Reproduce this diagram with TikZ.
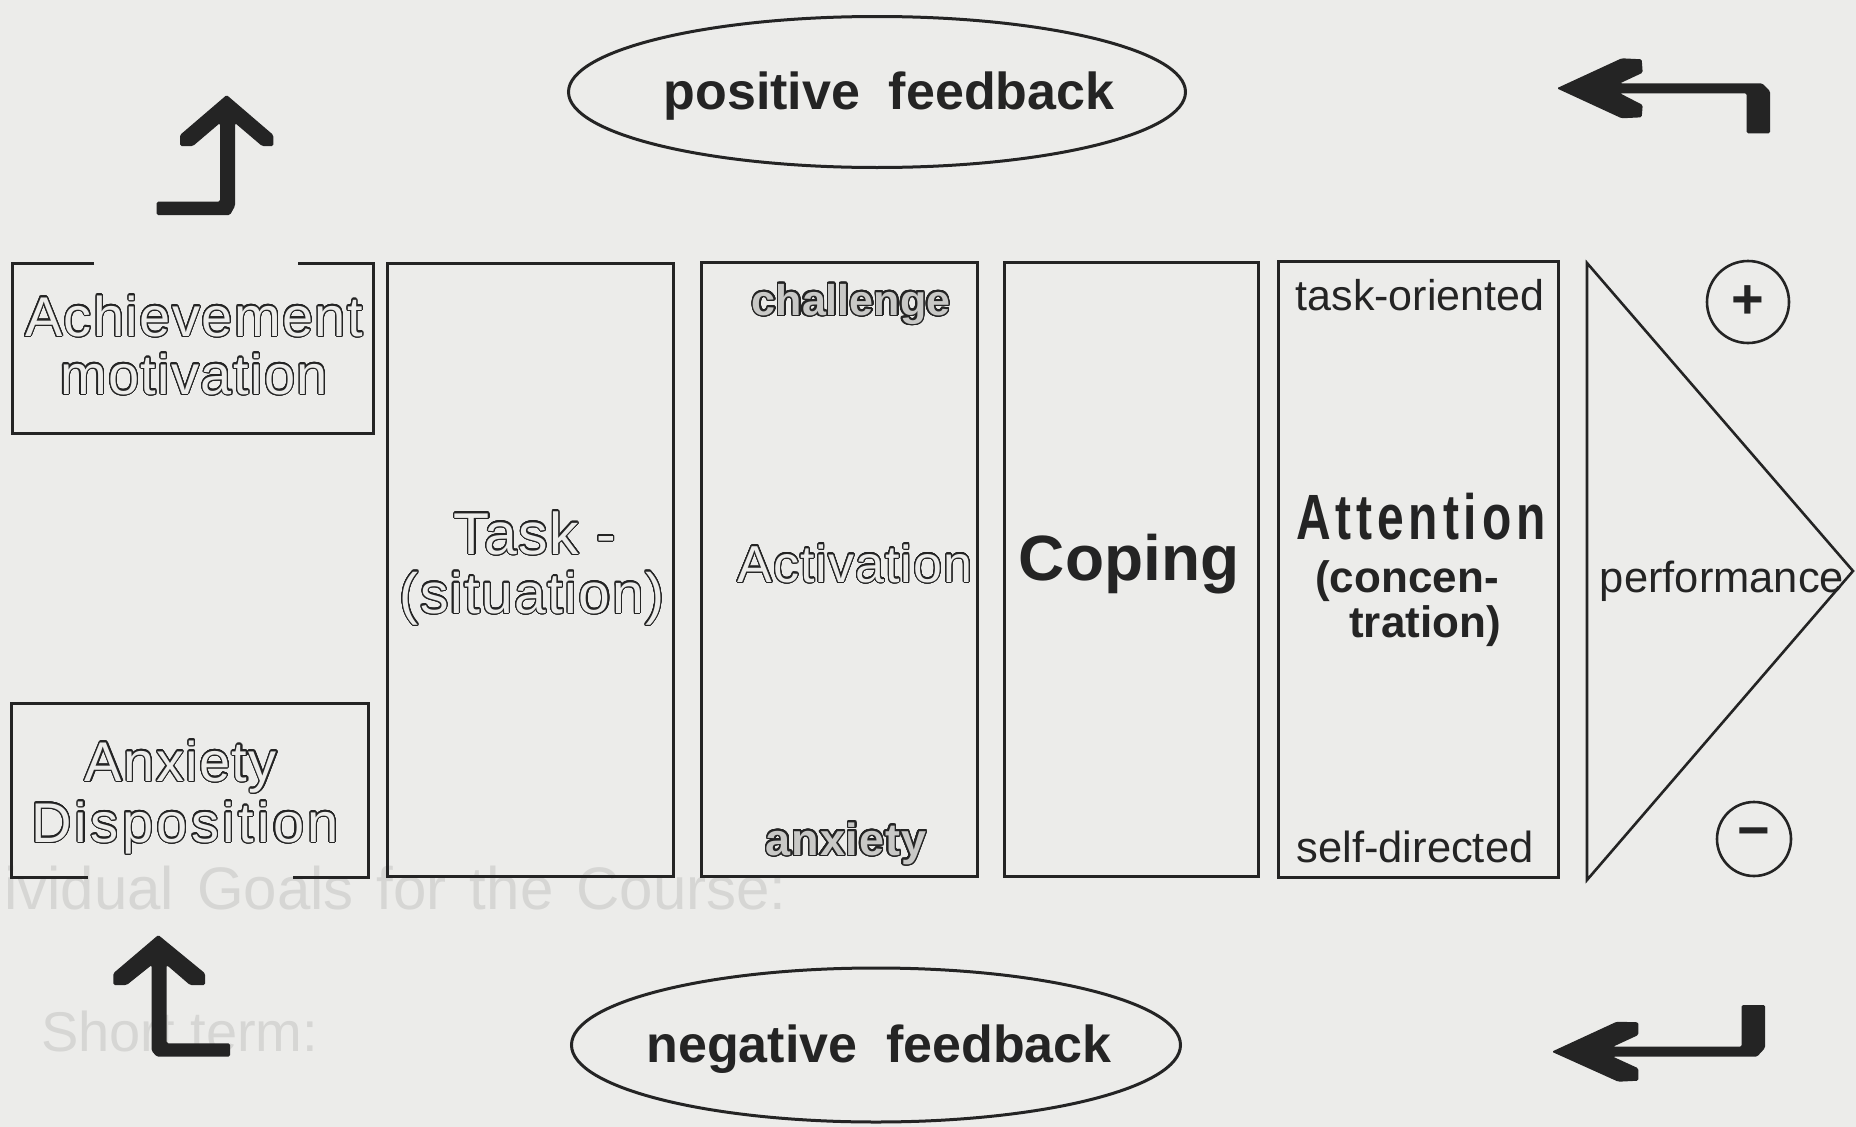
\documentclass[tikz,border=0pt]{standalone}
\usepackage{fontspec}
\setmainfont{Liberation Sans}
\usepackage{graphicx}
\usepackage[copies]{contour}
\usetikzlibrary{shapes.geometric}

\definecolor{paper}{RGB}{236,236,234}
\definecolor{ink}{RGB}{36,36,36}
\definecolor{ghost}{RGB}{214,214,212}

\contourlength{1.1pt}
\contournumber{32}
% hollow (outlined) lettering: ink rim, paper-coloured body
\newcommand\hollow[2][paper]{\contour{ink}{\textcolor{#1}{#2}}}
% heavier outlined lettering with a light core
\newcommand\hollowbold[1]{{\contourlength{1.5pt}\contour{ink}{\textcolor{ink!18!paper}{#1}}}}
\newcommand\pxsize[1]{\fontsize{#1}{#1}\selectfont}
\newcommand\wgap{\hspace{23pt}}

\begin{document}
\begin{tikzpicture}[x=1pt,y=-1pt,
  frame/.style={draw=ink, line width=3pt},
  hidden/.style={draw=none, inner sep=0pt, outer sep=0pt},
  lbl/.style={anchor=base, inner sep=0pt, outer sep=0pt, text=ink},
  sign/.style={circle, draw=ink, line width=2.6pt, inner sep=0pt, text=ink, font=\bfseries\pxsize{56}},
  fb/.style={ellipse, draw=ink, line width=3pt, inner sep=0pt},
  bent/.style={fill=ink, rounded corners=1.5pt}]

\useasboundingbox (0,0) rectangle (1856,1127);
\fill[paper] (0,0) rectangle (1856,1127);

% faint lettering showing through the sheet
\node[anchor=base west, inner sep=0pt, text=ghost, font=\pxsize{60}] (ghostA) at (4,909) {ividual\wgap Goals\wgap for\wgap the\wgap Course:};
\node[anchor=base west, inner sep=0pt, text=ghost, font=\pxsize{56}] (ghostB) at (41,1051) {Short term:};

% feedback ellipses
\node[fb, minimum width=617, minimum height=151] (posfb) at (877,92) {};
\node[lbl, font=\bfseries\pxsize{52}] (posfbl) at (889,109) {positive\ \ feedback};
\node[fb, minimum width=609, minimum height=154] (negfb) at (876,1045) {};
\node[lbl, font=\bfseries\pxsize{52}] (negfbl) at (879,1062) {negative\ \ feedback};

% disposition boxes (open edges)
\node[hidden, minimum width=361, minimum height=170] (ach) at (192.5,348) {};
\draw[frame] ([xshift=82pt]ach.north west) -- (ach.north west) -- (ach.south west)
  -- (ach.south east) -- (ach.north east) -- ([xshift=-75pt]ach.north east);
\node[lbl, font=\pxsize{56}\addfontfeature{LetterSpace=2.5}] (achA) at (194,336) {\hollow{Achievement}};
\node[lbl, font=\pxsize{56}\addfontfeature{LetterSpace=2.5}] (achB) at (194,394) {\hollow{motivation}};

\node[hidden, minimum width=357, minimum height=174] (anx) at (189.5,790) {};
\draw[frame] ([xshift=77pt]anx.south west) -- (anx.south west) -- (anx.north west)
  -- (anx.north east) -- (anx.south east) -- ([xshift=-75pt]anx.south east);
\node[lbl, font=\pxsize{56}\addfontfeature{LetterSpace=2.5}] (anxA) at (181,781) {\hollow{Anxiety}};
\node[lbl, font=\pxsize{56}\addfontfeature{LetterSpace=6}] (anxB) at (185,842) {\hollow{Disposition}};

% process columns
\node[frame, minimum width=286, minimum height=613] (task) at (530,569.5) {};
\node[lbl, font=\pxsize{59}\addfontfeature{LetterSpace=2}] (taskA) at (535,554) {\hollow{Task -}};
\node[lbl, font=\pxsize{57}\addfontfeature{LetterSpace=2.5}] (taskB) at (532,613) {\hollow{(situation)}};

\node[frame, minimum width=276, minimum height=614] (act) at (839,569) {};
\node[lbl, font=\bfseries\pxsize{43}] (actTop) at (851,315) {\hollowbold{challenge}};
\node[lbl, font=\pxsize{52}\addfontfeature{LetterSpace=2}] (actMid) at (855,582) {\hollow{Activation}};
\node[lbl, font=\bfseries\pxsize{45}\addfontfeature{LetterSpace=2}] (actBot) at (846,855) {\hollowbold{anxiety}};

\node[frame, minimum width=254, minimum height=614] (cop) at (1131,569) {};
\node[lbl, font=\bfseries\pxsize{64}] (copL) at (1129,580) {Coping};

\node[frame, minimum width=280, minimum height=616] (att) at (1418,569) {};
\node[lbl, font=\pxsize{43}] (attTop) at (1420,310) {task-oriented};
\node[lbl, font=\bfseries\pxsize{64}] (attMid) at (1421,539) {\scalebox{0.75}[1]{\addfontfeature{LetterSpace=10}Attention}};
\node[lbl, font=\bfseries\pxsize{44}] (attC1) at (1407,592) {(concen-};
\node[lbl, font=\bfseries\pxsize{44}] (attC2) at (1425,637) {tration)};
\node[lbl, font=\pxsize{43.5}] (attBot) at (1415,862) {self-directed};

% performance wedge
\coordinate (perfTop) at (1587,263);
\coordinate (perfBot) at (1587,880);
\coordinate (perfTip) at (1853,571);
\draw[frame, line width=2.6pt, line join=miter] (perfTop) -- (perfTip) -- (perfBot) -- cycle;
\node[lbl, font=\pxsize{43.5}] (perf) at (1722,592) {performance};

\node[sign, minimum size=82] (plus) at (1748,302) {+};
\node[sign, minimum size=74] (minus) at (1754,839) {−};

% bent arrows
\fill[bent] (226.7,95) -- (273.3,135) -- (273.3,146) -- (262,146) -- (235,123)
  -- (235,206) -- (230,215) -- (156.7,215) -- (156.7,201.7) -- (220,201.7)
  -- (220,123) -- (193,146) -- (180,146) -- (180,135) -- cycle;

\fill[bent] (158.3,935) -- (205,973.3) -- (205,985) -- (190,985) -- (166.7,965)
  -- (166.7,1043.3) -- (230,1043.3) -- (230,1056.7) -- (157,1056.7) -- (151.7,1051)
  -- (151.7,965) -- (126.7,985) -- (113.3,985) -- (113.3,973.3) -- cycle;

\fill[bent] (1556.7,88.3) -- (1621.7,58.3) -- (1641.7,59.3) -- (1642.7,72.7)
  -- (1620,83.3) -- (1762,83.3) -- (1770,91) -- (1770,133.3) -- (1746.7,133.3)
  -- (1746.7,93.3) -- (1620,93.3) -- (1642.7,105) -- (1641.7,117.3)
  -- (1621.7,118.3) -- cycle;

\fill[bent] (1551.7,1051.7) -- (1616.7,1021.7) -- (1638.3,1022.3) -- (1638.3,1035)
  -- (1613,1046.7) -- (1741.7,1046.7) -- (1741.7,1005) -- (1765,1005)
  -- (1765,1048) -- (1757,1056.7) -- (1613,1056.7) -- (1638.3,1068.3)
  -- (1638.3,1080.7) -- (1618.3,1081.7) -- cycle;

\end{tikzpicture}
\end{document}
